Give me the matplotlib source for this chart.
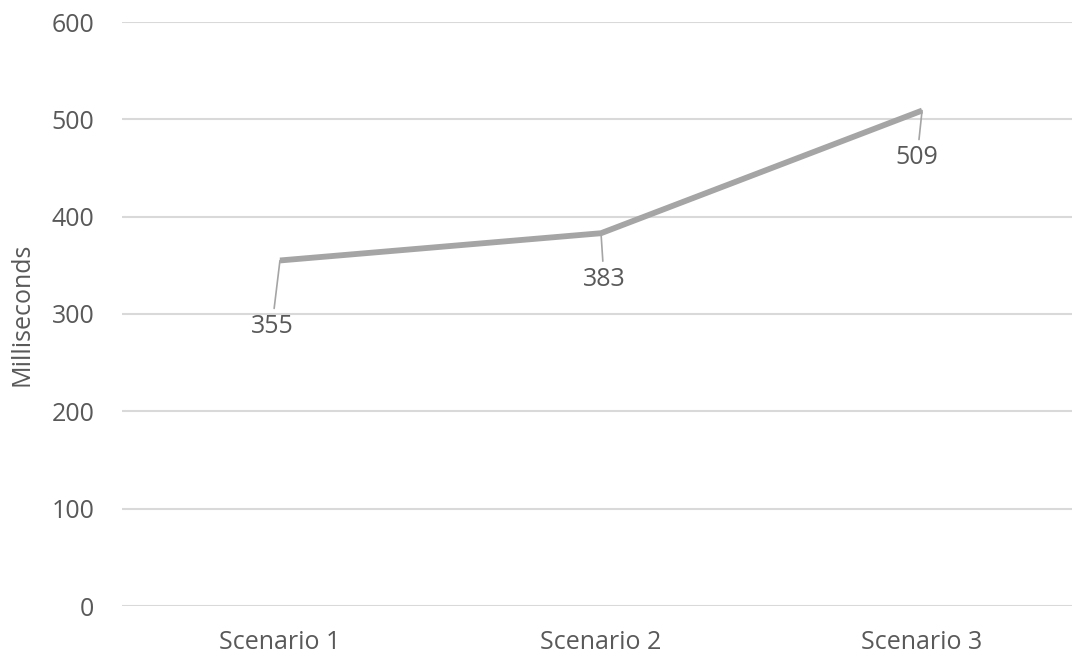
import matplotlib
matplotlib.use('Agg')
import matplotlib.pyplot as plt

scenarios = ['Scenario 1', 'Scenario 2', 'Scenario 3']
millis = [355, 383, 509]
yticks = [0, 100, 200, 300, 400, 500, 600]
# label offsets from each point, in pixels
label_offsets = [(-8, -66), (3, -46), (-5, -47)]

text_col = '#595959'
fs = 18
plt.rcParams['font.family'] = ['Open Sans', 'DejaVu Sans']

fig = plt.figure(figsize=(10.75, 6.57), dpi=100)
ax = fig.add_axes([122/1075, 1 - 606/657, (1072 - 122)/1075, (606 - 22)/657])

x = list(range(len(scenarios)))
ax.plot(x, millis, color='#a5a5a5', lw=4.2, solid_capstyle='butt', zorder=3)

for xi, v, off in zip(x, millis, label_offsets):
    ax.annotate(str(v), xy=(xi, v), xytext=off, textcoords='offset pixels',
                ha='center', va='center', fontsize=fs, color=text_col,
                arrowprops=dict(arrowstyle='-', color='#a5a5a5', lw=1.2,
                                shrinkA=2, shrinkB=0))

ax.set_xlim(-0.492, 2.467)
ax.set_ylim(0, 600)
ax.set_yticks(yticks)
ax.set_xticks(x)
ax.set_xticklabels(scenarios)
ax.grid(axis='y', color='#d9d9d9', lw=1.5)
ax.set_axisbelow(True)
for s in ax.spines.values():
    s.set_visible(False)
ax.tick_params(length=0, labelsize=fs, labelcolor=text_col)
ax.tick_params(axis='y', pad=20)
ax.tick_params(axis='x', pad=17)
ax.set_ylabel('Milliseconds', fontsize=fs, color=text_col, labelpad=12)

fig.savefig('out.png', dpi=100)
